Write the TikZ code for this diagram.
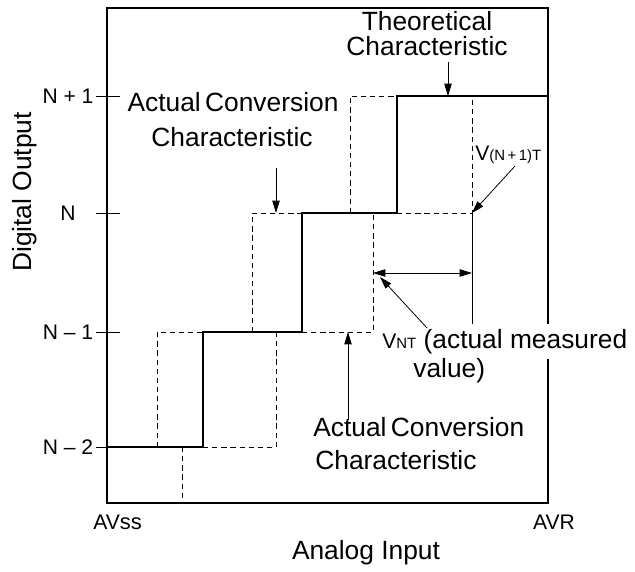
\documentclass[tikz,border=0pt]{standalone}
\usepackage{fontspec}
\setmainfont{Liberation Sans}
\usetikzlibrary{arrows.meta, positioning}

\newcommand{\subcap}[1]{{\fontsize{8.5}{10}\selectfont #1}}

\begin{document}
\begin{tikzpicture}[x=0.02cm, y=-0.02cm,
    theory/.style={line width=1.6pt},
    actual/.style={line width=0.55pt, dash pattern=on 3pt off 2.2pt},
    pointer/.style={line width=0.45pt, -{Triangle[length=7pt,width=4.2pt]}},
    lbl/.style={font=\fontsize{15}{17}\selectfont, inner sep=0pt, anchor=base},
    small/.style={font=\fontsize{12}{14}\selectfont, inner sep=0pt}]
    \useasboundingbox (0,0) rectangle (635,571);

    % Frame and level ticks
    \draw[line width=0.6pt] (107,8) rectangle (548,503);
    \foreach \lv/\txt in {96/N + 1, 213/N, 332/N -- 1, 447/N -- 2} {
        \draw[line width=0.5pt] (96,\lv) -- (120,\lv);
        \node[small] (tick\lv) at (68,\lv) {\txt};
    }

    % Theoretical characteristic
    \draw[theory] (107,447) -- (203,447) -- (203,332) -- (302,332)
        -- (302,213) -- (397,213) -- (397,96) -- (548,96);

    % Actual conversion characteristic
    \draw[actual] (182,447) -- (182,503);
    \draw[actual] (157,447) -- (157,332) -- (203,332);
    \draw[actual] (203,447) -- (276,447) -- (276,332);
    \draw[actual] (252,332) -- (252,213) -- (302,213);
    \draw[actual] (302,332) -- (373,332) -- (373,213);
    \draw[actual] (350,213) -- (350,96) -- (397,96);
    \draw[actual] (397,213) -- (472,213) -- (472,96);
    \draw[line width=0.5pt] (472,213) -- (472,325);

    % Labels
    \node[lbl] (theoA) at (427,31) {Theoretical};
    \node[lbl] (theoB) at (427,56) {Characteristic};
    \node[lbl] (actA) at (233,112) {Actual\,Conversion};
    \node[lbl] (actB) at (232,146) {Characteristic};
    \node[lbl, anchor=base west] (actC) at (313,436) {Actual\,Conversion};
    \node[lbl, anchor=base west] (actD) at (315,469) {Characteristic};
    \node[lbl, anchor=base west, fill=white, inner ysep=3pt] (vnt) at (382,348)
        {{\fontsize{12}{14}\selectfont V\subcap{NT}} (actual measured};
    \node[lbl, anchor=base west] (vntB) at (413,377) {value)};
    \node[small, anchor=base west] (vnext) at (475,160) {V\subcap{(N\,+\,1)T}};

    % Axis labels
    \node[small, anchor=base west] (avss) at (93,529) {AV{\fontsize{12.5}{14}\selectfont ss}};
    \node[small, anchor=base] (avr) at (554,529) {AVR};
    \node[lbl] (xlab) at (366,559) {Analog Input};
    \node[lbl, rotate=90, anchor=center] (ylab) at (25,192) {Digital Output};

    % Pointers
    \coordinate (theoS) at (448,62);   \coordinate (theoT) at (448,96);
    \coordinate (actS) at (276,168);   \coordinate (actT) at (276,213);
    \coordinate (actLS) at (348,420);  \coordinate (actLT) at (348,332);
    \coordinate (vnS) at (515,166);    \coordinate (vnT) at (472,213);
    \coordinate (vntS) at (427,328);   \coordinate (vntT) at (380,277);
    \coordinate (gapL) at (373,273);   \coordinate (gapR) at (472,273);
    \draw[pointer] (theoS) -- (theoT);
    \draw[pointer] (actS) -- (actT);
    \draw[pointer] (actLS) -- (actLT);
    \draw[pointer] (vnS) -- (vnT);
    \draw[pointer] (vntS) -- (vntT);
    \draw[pointer, {Triangle[length=7pt,width=4.2pt]}-{Triangle[length=7pt,width=4.2pt]}] (gapL) -- (gapR);
\end{tikzpicture}
\end{document}
